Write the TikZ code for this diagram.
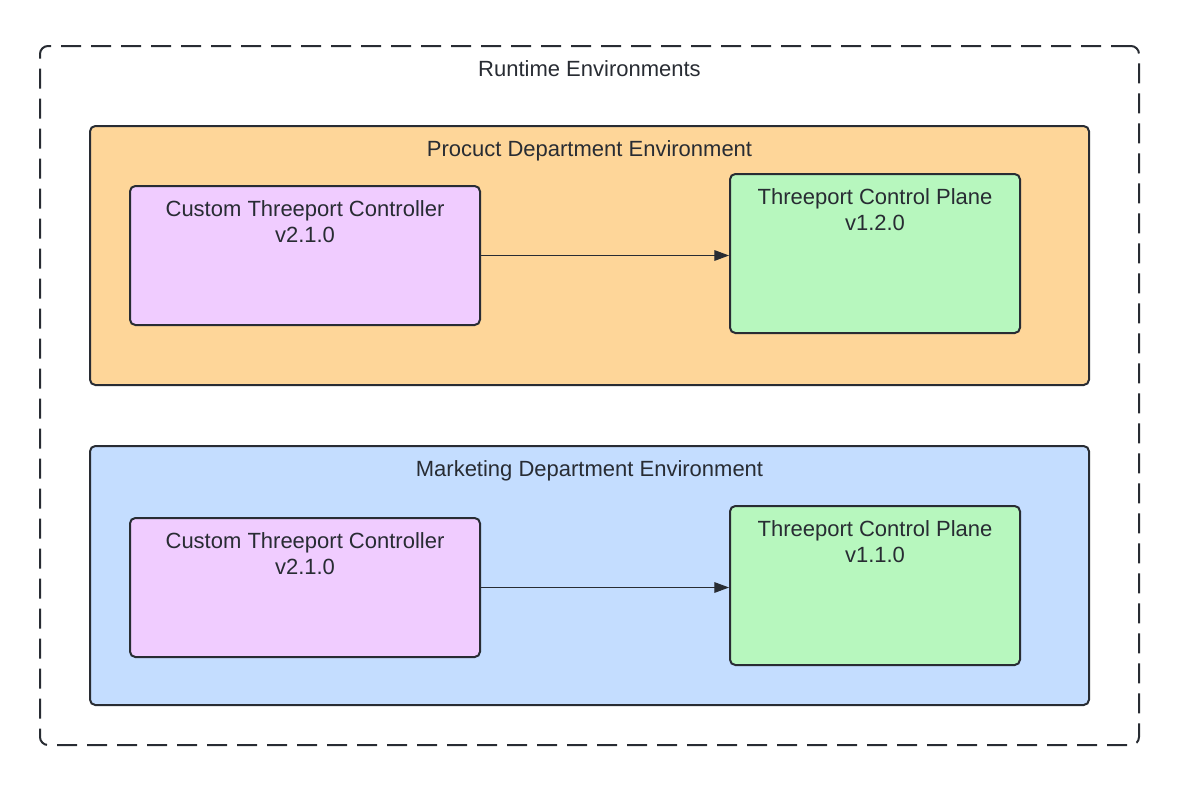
\documentclass[tikz,border=0pt]{standalone}
\usepackage{fontspec}
\setmainfont{Liberation Sans}
\usetikzlibrary{arrows.meta,calc}
\definecolor{ink}{RGB}{40,44,51}
\definecolor{orangefill}{RGB}{254,214,153}
\definecolor{bluefill}{RGB}{196,221,255}
\definecolor{purplefill}{RGB}{240,204,255}
\definecolor{greenfill}{RGB}{183,247,190}
\tikzset{
  envbox/.style={draw=ink, line width=1.5pt, rounded corners=4pt, inner sep=0pt, minimum width=749.25pt, minimum height=194.25pt},
  ctlbox/.style={draw=ink, line width=1.5pt, rounded corners=4pt, fill=purplefill, inner sep=0pt, minimum width=262.5pt, minimum height=104.25pt},
  cpbox/.style={draw=ink, line width=1.5pt, rounded corners=4pt, fill=greenfill, inner sep=0pt, minimum width=217.5pt, minimum height=119.25pt},
  txt/.style={text=ink, font=\fontsize{16.5}{19.5}\selectfont, align=center, anchor=north, inner sep=0pt},
  conn/.style={draw=ink, line width=0.75pt, -{Triangle[length=11pt,width=8pt]}}
}
\begin{document}
\begin{tikzpicture}[x=0.75pt,y=-0.75pt]
\useasboundingbox (0,0) rectangle (1180,786);
\node[draw=ink, line width=1.5pt, dash pattern=on 15pt off 7.5pt, rounded corners=6pt, inner sep=0pt, minimum width=824.25pt, minimum height=524.25pt] (outer) at (589.5,395.5) {};
\node[txt] (outert) at ($(outer.north)+(0,15)$) {Runtime Environments};

\node[envbox, fill=orangefill] (prod) at (589.5,255.5) {};
\node[txt] (prodt) at ($(prod.north)+(0,15)$) {Procuct Department Environment};
\node[ctlbox] (ctl1) at (305,255.5) {};
\node[txt] (ctl1t) at ($(ctl1.north)+(0,15)$) {Custom Threeport Controller\\v2.1.0};
\node[cpbox] (cp1) at (875,253.5) {};
\node[txt] (cp1t) at ($(cp1.north)+(0,15)$) {Threeport Control Plane\\v1.2.0};
\draw[conn] (ctl1.east) -- (ctl1.east -| cp1.west);

\node[envbox, fill=bluefill] (mkt) at (589.5,575.5) {};
\node[txt] (mktt) at ($(mkt.north)+(0,15)$) {Marketing Department Environment};
\node[ctlbox] (ctl2) at (305,587.5) {};
\node[txt] (ctl2t) at ($(ctl2.north)+(0,15)$) {Custom Threeport Controller\\v2.1.0};
\node[cpbox] (cp2) at (875,585.5) {};
\node[txt] (cp2t) at ($(cp2.north)+(0,15)$) {Threeport Control Plane\\v1.1.0};
\draw[conn] (ctl2.east) -- (ctl2.east -| cp2.west);
\end{tikzpicture}
\end{document}
